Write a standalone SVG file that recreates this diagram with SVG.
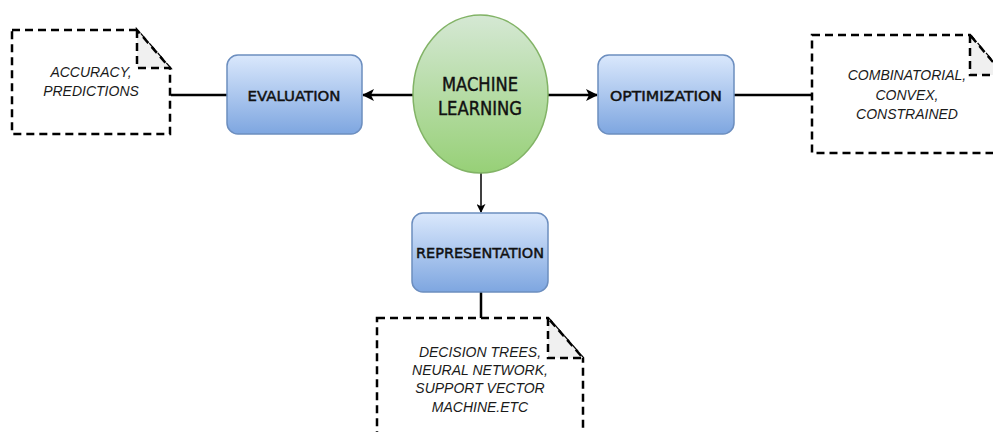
<svg xmlns="http://www.w3.org/2000/svg" width="993" height="432" viewBox="0 0 993 432">
  <style>
    .note { fill: #ffffff; stroke: #000000; stroke-width: 2.5; stroke-dasharray: 8 5; }
    .fold { fill: #f0f0f0; stroke: #000000; stroke-width: 2.5; stroke-dasharray: 8 5; }
    .box { fill: url(#blueGrad); stroke: #6c8ebf; stroke-width: 1.5; }
    .ell { fill: url(#greenGrad); stroke: #82b366; stroke-width: 1.5; }
    .label { font-family: "Comic Sans MS", "DejaVu Sans", sans-serif; fill: #111111; stroke: #111111; stroke-width: 0.45; text-anchor: middle; }
    .noteText { font-family: "Liberation Sans", Arial, sans-serif; font-style: italic; font-size: 14px; fill: #1a1a1a; text-anchor: middle; }
    .edge { fill: none; stroke: #000000; stroke-width: 2.5; }
    .edgeThin { fill: none; stroke: #000000; stroke-width: 1.5; }
  </style>
  <defs>
    <linearGradient id="blueGrad" x1="0" y1="0" x2="0" y2="1">
      <stop offset="0" stop-color="#dae8fc"/>
      <stop offset="1" stop-color="#7ea6e0"/>
    </linearGradient>
    <linearGradient id="greenGrad" x1="0" y1="0" x2="0" y2="1">
      <stop offset="0" stop-color="#d5e8d4"/>
      <stop offset="1" stop-color="#97d077"/>
    </linearGradient>
    <marker id="arrow" viewBox="0 0 12 12" refX="11" refY="6" markerWidth="13" markerHeight="12" markerUnits="userSpaceOnUse" orient="auto">
      <path d="M0,0 L12,6 L0,12 L3,6 Z" fill="#000000"/>
    </marker>
    <marker id="arrowSmall" viewBox="0 0 10 10" refX="9" refY="5" markerWidth="9" markerHeight="9" markerUnits="userSpaceOnUse" orient="auto">
      <path d="M0,0 L10,5 L0,10 L2.5,5 Z" fill="#000000"/>
    </marker>
  </defs>

  <!-- connectors -->
  <g id="connectors">
    <line class="edge" x1="171" y1="95" x2="227" y2="95"/>
    <line class="edge" x1="413" y1="95" x2="363" y2="95" marker-end="url(#arrow)"/>
    <line class="edge" x1="548" y1="95" x2="597" y2="95" marker-end="url(#arrow)"/>
    <line class="edge" x1="734" y1="95" x2="812" y2="95"/>
    <line class="edgeThin" x1="481" y1="173" x2="481" y2="212" marker-end="url(#arrowSmall)"/>
    <line class="edge" x1="481" y1="292" x2="481" y2="318"/>
  </g>

  <!-- left note -->
  <g id="note-evaluation">
    <path class="note" d="M12,30 L137,30 L170,68 L170,134 L12,134 Z"/>
    <path class="fold" d="M137,30 L137,68 L170,68 Z"/>
    <text class="noteText" x="91" y="77">ACCURACY,</text>
    <text class="noteText" x="91" y="96">PREDICTIONS</text>
  </g>

  <!-- evaluation -->
  <g id="evaluation">
    <rect class="box" x="227" y="55" width="135" height="79" rx="11" ry="11"/>
    <text class="label" x="294" y="101" font-size="14" textLength="93" lengthAdjust="spacingAndGlyphs">EVALUATION</text>
  </g>

  <!-- machine learning -->
  <g id="machine-learning">
    <ellipse class="ell" cx="480.5" cy="94" rx="67.5" ry="79"/>
    <text class="label" x="480" y="91" font-size="19" textLength="76" lengthAdjust="spacingAndGlyphs">MACHINE</text>
    <text class="label" x="480" y="115" font-size="19" textLength="84" lengthAdjust="spacingAndGlyphs">LEARNING</text>
  </g>

  <!-- optimization -->
  <g id="optimization">
    <rect class="box" x="598" y="55" width="136" height="79" rx="11" ry="11"/>
    <text class="label" x="666" y="101" font-size="14" textLength="112" lengthAdjust="spacingAndGlyphs">OPTIMIZATION</text>
  </g>

  <!-- right note -->
  <g id="note-optimization">
    <path class="note" d="M812,35 L970,35 L1004,75 L1004,153 L812,153 Z"/>
    <path class="fold" d="M970,35 L970,75 L1004,75 Z"/>
    <text class="noteText" x="907" y="80">COMBINATORIAL,</text>
    <text class="noteText" x="907" y="100">CONVEX,</text>
    <text class="noteText" x="907" y="119">CONSTRAINED</text>
  </g>

  <!-- representation -->
  <g id="representation">
    <rect class="box" x="412" y="213" width="136" height="79" rx="11" ry="11"/>
    <text class="label" x="480" y="258" font-size="14" textLength="128" lengthAdjust="spacingAndGlyphs">REPRESENTATION</text>
  </g>

  <!-- bottom note -->
  <g id="note-representation">
    <path class="note" d="M377,318 L548,318 L583,358 L583,450 L377,450 Z"/>
    <path class="fold" d="M548,318 L548,358 L583,358 Z"/>
    <text class="noteText" x="480" y="357">DECISION TREES,</text>
    <text class="noteText" x="480" y="375">NEURAL NETWORK,</text>
    <text class="noteText" x="480" y="393">SUPPORT VECTOR</text>
    <text class="noteText" x="480" y="412">MACHINE.ETC</text>
  </g>
</svg>
